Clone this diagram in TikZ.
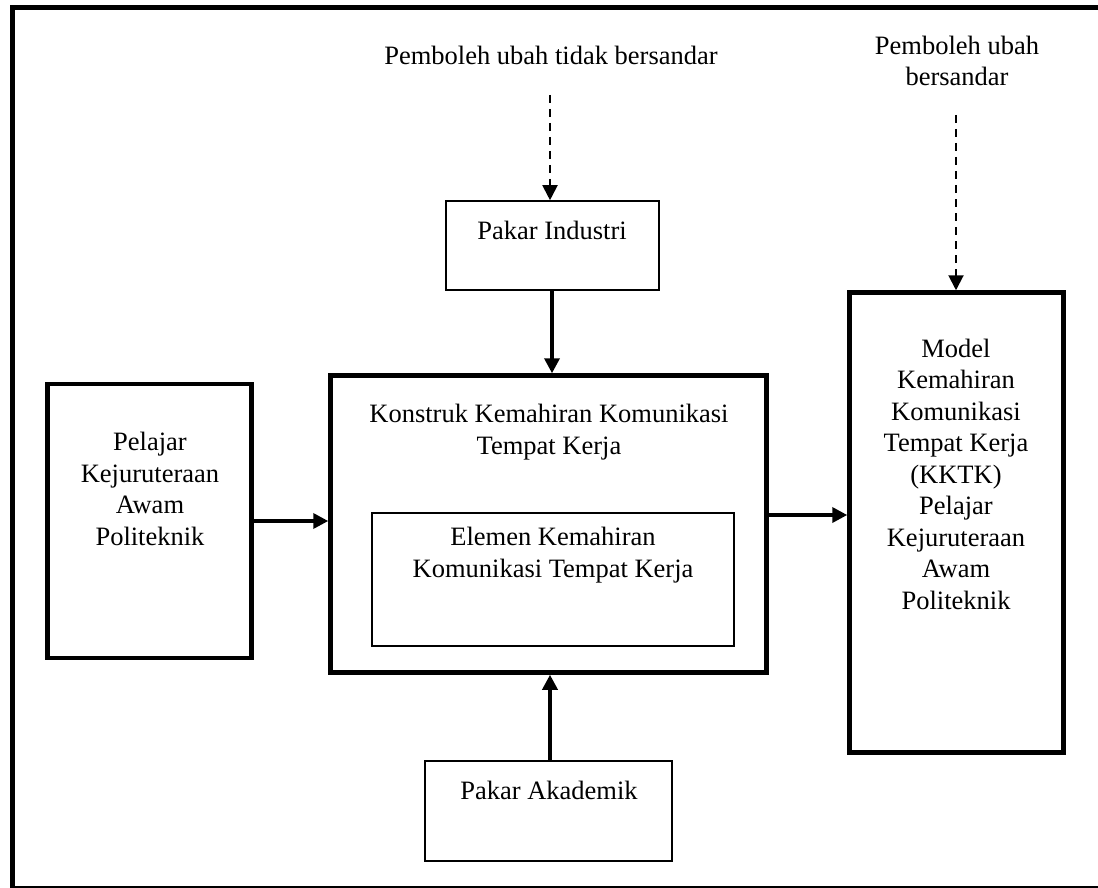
\documentclass[tikz,border=0pt]{standalone}
\usepackage{fontspec}
\setmainfont{Liberation Serif}
\usetikzlibrary{arrows.meta}
\begin{document}
\begin{tikzpicture}[x=1pt,y=-1pt,
  thickbox/.style={draw,line width=4.5pt,rectangle,inner sep=0pt},
  thinbox/.style={draw,line width=1.6pt,rectangle,inner sep=0pt},
  txt/.style={align=center,inner sep=0pt,font=\fontsize{26.5}{31.5}\selectfont},
  solidarrow/.style={line width=3.5pt,-{Triangle[width=15pt,length=15pt]}},
  dasharrow/.style={line width=2pt,dash pattern=on 8pt off 6pt,-{Triangle[width=15pt,length=15pt]}}]
\useasboundingbox (0,0) rectangle (1098,888);
\fill[white] (0,0) rectangle (1098,888);
% frame
\draw[line width=5pt] (12.5,888) -- (12.5,7.5) -- (1110,7.5);
\draw[line width=2pt] (12.5,887) -- (1110,887);
% boxes
\node[thinbox,minimum width=213pt,minimum height=89pt] (ind) at (552.5,245.5) {};
\node[thickbox,minimum width=436pt,minimum height=297pt] (main) at (548.5,524) {};
\node[thinbox,minimum width=362pt,minimum height=133pt] (inner) at (553,579.5) {};
\node[thickbox,minimum width=204pt,minimum height=274pt] (left) at (149.5,521) {};
\node[thickbox,minimum width=214pt,minimum height=460pt] (right) at (956.5,522.5) {};
\node[thinbox,minimum width=247pt,minimum height=100pt] (akad) at (548.5,811) {};
% texts
\node[txt] (t1) at (551,55) {Pemboleh ubah tidak bersandar};
\node[txt] (t2) at (957,61) {Pemboleh ubah\\bersandar};
\node[txt] (indT) at (552,230) {Pakar Industri};
\node[txt] (mainT) at (549,432) {Konstruk Kemahiran Komunikasi\\Tempat Kerja};
\node[txt] (innerT) at (553,555) {Elemen Kemahiran\\Komunikasi Tempat Kerja};
\node[txt] (leftT) at (150,489) {Pelajar\\Kejuruteraan\\Awam\\Politeknik};
\node[txt] (rightT) at (956,474) {Model\\Kemahiran\\Komunikasi\\Tempat Kerja\\(KKTK)\\Pelajar\\Kejuruteraan\\Awam\\Politeknik};
\node[txt] (akadT) at (549,790) {Pakar Akademik};
% connectors
\coordinate (d1) at (550,95);
\coordinate (d2) at (956,115);
\draw[dasharrow] (d1) -- (d1 |- ind.north);
\draw[dasharrow] (d2) -- (d2 |- right.north);
\coordinate (a1) at (552,290);
\draw[solidarrow] (a1) -- (a1 |- main.north);
\coordinate (a2) at (550,761);
\draw[solidarrow] (a2) -- (a2 |- main.south);
\coordinate (a3) at (left.east);
\draw[solidarrow] (a3) -- (a3 -| main.west);
\coordinate (a4) at ([yshift=9pt]main.east);
\draw[solidarrow] (a4) -- (a4 -| right.west);
\end{tikzpicture}
\end{document}
